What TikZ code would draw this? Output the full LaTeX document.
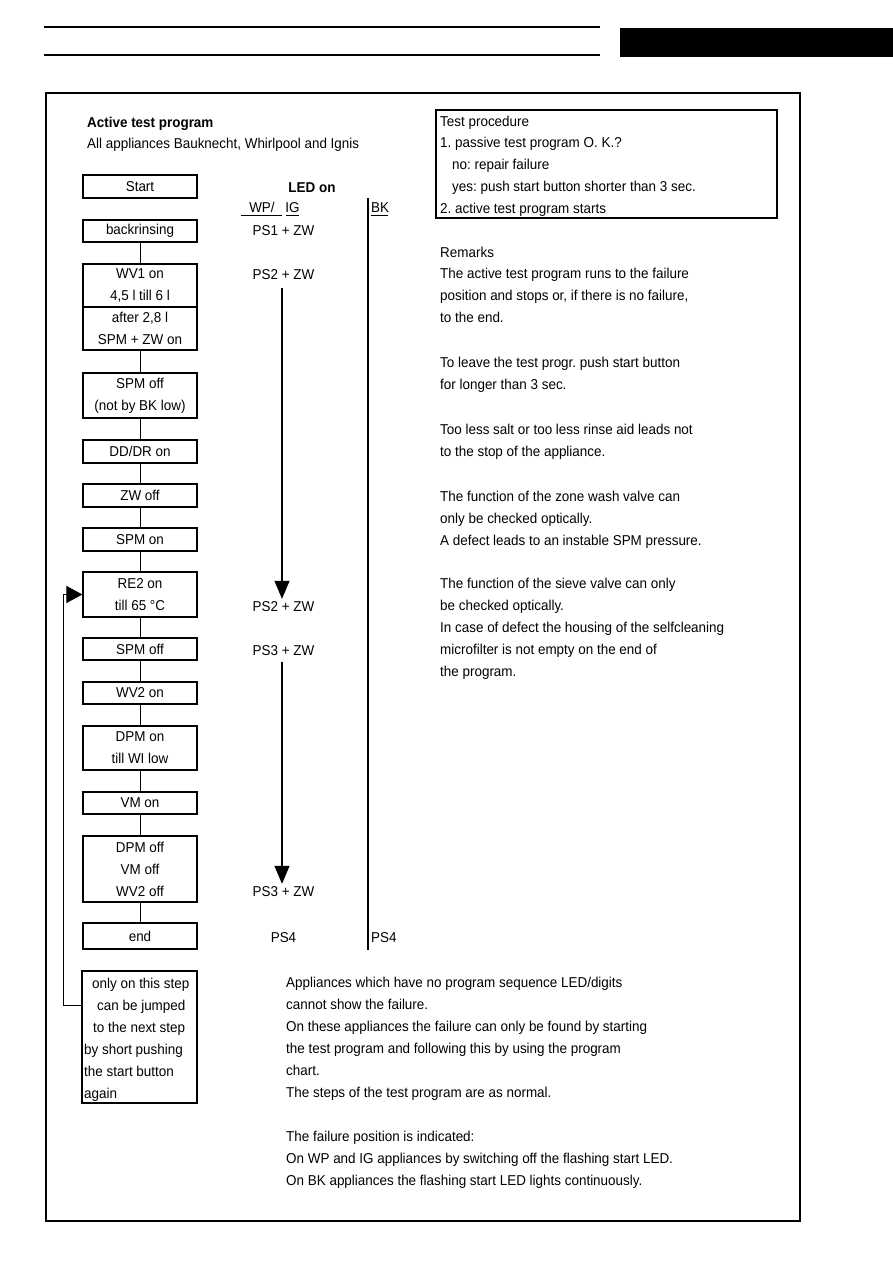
\documentclass[tikz,border=0pt]{standalone}
\usepackage{fontspec}
\setmainfont{Liberation Sans}[FakeStretch=0.94]
\usetikzlibrary{arrows.meta}
\newcommand\bodyfont{\fontsize{14.3}{22}\selectfont\frenchspacing}
\tikzset{
  txt/.style={anchor=base west, inner sep=0pt, font=\bodyfont},
  ctxt/.style={anchor=base, inner sep=0pt, font=\bodyfont},
  stepbox/.style={draw, line width=1.2pt, minimum width=114pt, inner sep=0pt, align=center, font=\bodyfont},
  conn/.style={line width=0.9pt},
  bigarrow/.style={line width=1.2pt, -{Triangle[length=18pt, width=15pt]}},
}
\begin{document}
\begin{tikzpicture}[x=1pt,y=-1pt]
\useasboundingbox (0,0) rectangle (893,1263);
% header
\coordinate (h1a) at (44,27); \coordinate (h1b) at (600,27);
\coordinate (h2a) at (44,55); \coordinate (h2b) at (600,55);
\draw[line width=1.5pt] (h1a) -- (h1b);
\draw[line width=1.5pt] (h2a) -- (h2b);
\fill (620,28) rectangle (893,57);
% frame
\draw[line width=2pt] (46,93) rectangle (800,1221);

% title
\node[txt, font=\bodyfont\bfseries] (title) at (87,127) {Active test program};
\node[txt] (sub) at (87,148) {All appliances Bauknecht, Whirlpool and Ignis};

% flow boxes
\node[stepbox, minimum height=23pt] (st) at (140,186.5) {Start};
\node[stepbox, minimum height=22pt] (br) at (140,231) {backrinsing};
\node[stepbox, minimum height=43pt] (wva) at (140,285.5) {WV1 on\\4,5 l till 6 l};
\node[stepbox, minimum height=43pt] (wvb) at (140,328.5) {after 2,8 l\\SPM + ZW on};
\node[stepbox, minimum height=45pt] (so1) at (140,395.5) {SPM off\\(not by BK low)};
\node[stepbox, minimum height=23pt] (dd) at (140,451.5) {DD/DR on};
\node[stepbox, minimum height=23pt] (zw) at (140,495.5) {ZW off};
\node[stepbox, minimum height=23pt] (son) at (140,539.5) {SPM on};
\node[stepbox, minimum height=45pt] (re) at (140,594.5) {RE2 on\\till 65 °C};
\node[stepbox, minimum height=22pt] (so2) at (140,649) {SPM off};
\node[stepbox, minimum height=22pt] (wv2) at (140,693) {WV2 on};
\node[stepbox, minimum height=44pt] (dpon) at (140,748) {DPM on\\till WI low};
\node[stepbox, minimum height=22pt] (vm) at (140,803) {VM on};
\node[stepbox, minimum height=66pt] (dpoff) at (140,869) {DPM off\\VM off\\WV2 off};
\node[stepbox, minimum height=26pt] (en) at (140,936) {end};

% connectors
\draw[conn] (br.south) -- (wva.north);
\draw[conn] (wvb.south) -- (so1.north);
\draw[conn] (so1.south) -- (dd.north);
\draw[conn] (dd.south) -- (zw.north);
\draw[conn] (zw.south) -- (son.north);
\draw[conn] (son.south) -- (re.north);
\draw[conn] (re.south) -- (so2.north);
\draw[conn] (so2.south) -- (wv2.north);
\draw[conn] (wv2.south) -- (dpon.north);
\draw[conn] (dpon.south) -- (vm.north);
\draw[conn] (vm.south) -- (dpoff.north);
\draw[conn] (dpoff.south) -- (en.north);

% note box
\draw[line width=1.2pt] (82,971) rectangle (197,1103);
\node[inner sep=0pt, minimum width=115pt, minimum height=132pt] (nt) at (139.5,1037) {};
\node[txt] (n1) at (92,988.5) {only on this step};
\node[txt] (n2) at (97,1010) {can be jumped};
\node[txt] (n3) at (93,1032) {to the next step};
\node[txt] (n4) at (84,1054) {by short pushing};
\node[txt] (n5) at (84,1076) {the start button};
\node[txt] (n6) at (84,1098) {again};

% loop back arrow
\coordinate (lp1) at (63,1005);
\coordinate (lp2) at (lp1 |- re.west);
\draw[conn] (nt.west |- lp1) -- (lp1) -- (lp2);
\draw[line width=0.9pt, -{Triangle[length=16pt, width=17pt]}] (lp2) -- (re.west);

% LED column
\node[ctxt, font=\bodyfont\bfseries] (led) at (312,192.5) {LED on};
\node[ctxt] (wp) at (262,212.5) {WP/};
\node[ctxt] (ig) at (292.5,212.5) {IG};
\coordinate (u1a) at (241,215); \coordinate (u1b) at (282,215);
\coordinate (u2a) at (286,215); \coordinate (u2b) at (299,215);
\draw[line width=0.8pt] (u1a) -- (u1b);
\draw[line width=0.8pt] (u2a) -- (u2b);
\node[txt] (bk) at (371,212.5) {BK};
\coordinate (u3a) at (371,215); \coordinate (u3b) at (388,215);
\draw[line width=0.8pt] (u3a) -- (u3b);
\coordinate (bk1) at (368,198); \coordinate (bk2) at (368,950);
\draw[line width=1.2pt] (bk1) -- (bk2);

\node[ctxt] (p1) at (283.5,235.5) {PS1 + ZW};
\node[ctxt] (p2) at (283.5,279) {PS2 + ZW};
\node[ctxt] (p3) at (283.5,611) {PS2 + ZW};
\node[ctxt] (p4) at (283.5,655) {PS3 + ZW};
\node[ctxt] (p5) at (283.5,896) {PS3 + ZW};
\node[ctxt] (p6) at (283.5,942) {PS4};
\node[txt] (p7) at (371,942) {PS4};
\draw[bigarrow, shorten <=9pt, shorten >=2pt] (p2.south -| 282,0) -- (p3.north -| 282,0);
\draw[bigarrow, shorten <=7pt, shorten >=2pt] (p4.south -| 282,0) -- (p5.north -| 282,0);

% test procedure box
\draw[line width=1.2pt] (436,110) rectangle (777,218);
\node[txt] (tp1) at (440,126.5) {Test procedure};
\node[txt] (tp2) at (440,147.5) {1. passive test program O. K.?};
\node[txt] (tp3) at (452,169.5) {no: repair failure};
\node[txt] (tp4) at (452,191.5) {yes: push start button shorter than 3 sec.};
\node[txt] (tp5) at (440,213.5) {2. active test program starts};

% remarks
\node[txt] (r0) at (440,257.5) {Remarks};
\node[txt] (r1) at (440,278.5) {The active test program runs to the failure};
\node[txt] (r2) at (440,300.5) {position and stops or, if there is no failure,};
\node[txt] (r3) at (440,322.5) {to the end.};
\node[txt] (r4) at (440,367.5) {To leave the test progr. push start button};
\node[txt] (r5) at (440,389.5) {for longer than 3 sec.};
\node[txt] (r6) at (440,434.5) {Too less salt or too less rinse aid leads not};
\node[txt] (r7) at (440,456.5) {to the stop of the appliance.};
\node[txt] (r8) at (440,501.5) {The function of the zone wash valve can};
\node[txt] (r9) at (440,523.5) {only be checked optically.};
\node[txt] (r10) at (440,545.5) {A defect leads to an instable SPM pressure.};
\node[txt] (r11) at (440,588.5) {The function of the sieve valve can only};
\node[txt] (r12) at (440,610.5) {be checked optically.};
\node[txt] (r13) at (440,632.5) {In case of defect the housing of the selfcleaning};
\node[txt] (r14) at (440,654.5) {microfilter is not empty on the end of};
\node[txt] (r15) at (440,676.5) {the program.};

% bottom text
\node[txt] (b1) at (286,987.5) {Appliances which have no program sequence LED/digits};
\node[txt] (b2) at (286,1009.5) {cannot show the failure.};
\node[txt] (b3) at (286,1031.5) {On these appliances the failure can only be found by starting};
\node[txt] (b4) at (286,1053.5) {the test program and following this by using the program};
\node[txt] (b5) at (286,1075.5) {chart.};
\node[txt] (b6) at (286,1097.5) {The steps of the test program are as normal.};
\node[txt] (b7) at (286,1141.5) {The failure position is indicated:};
\node[txt] (b8) at (286,1163.5) {On WP and IG appliances by switching off the flashing start LED.};
\node[txt] (b9) at (286,1185.5) {On BK appliances the flashing start LED lights continuously.};
\end{tikzpicture}
\end{document}
